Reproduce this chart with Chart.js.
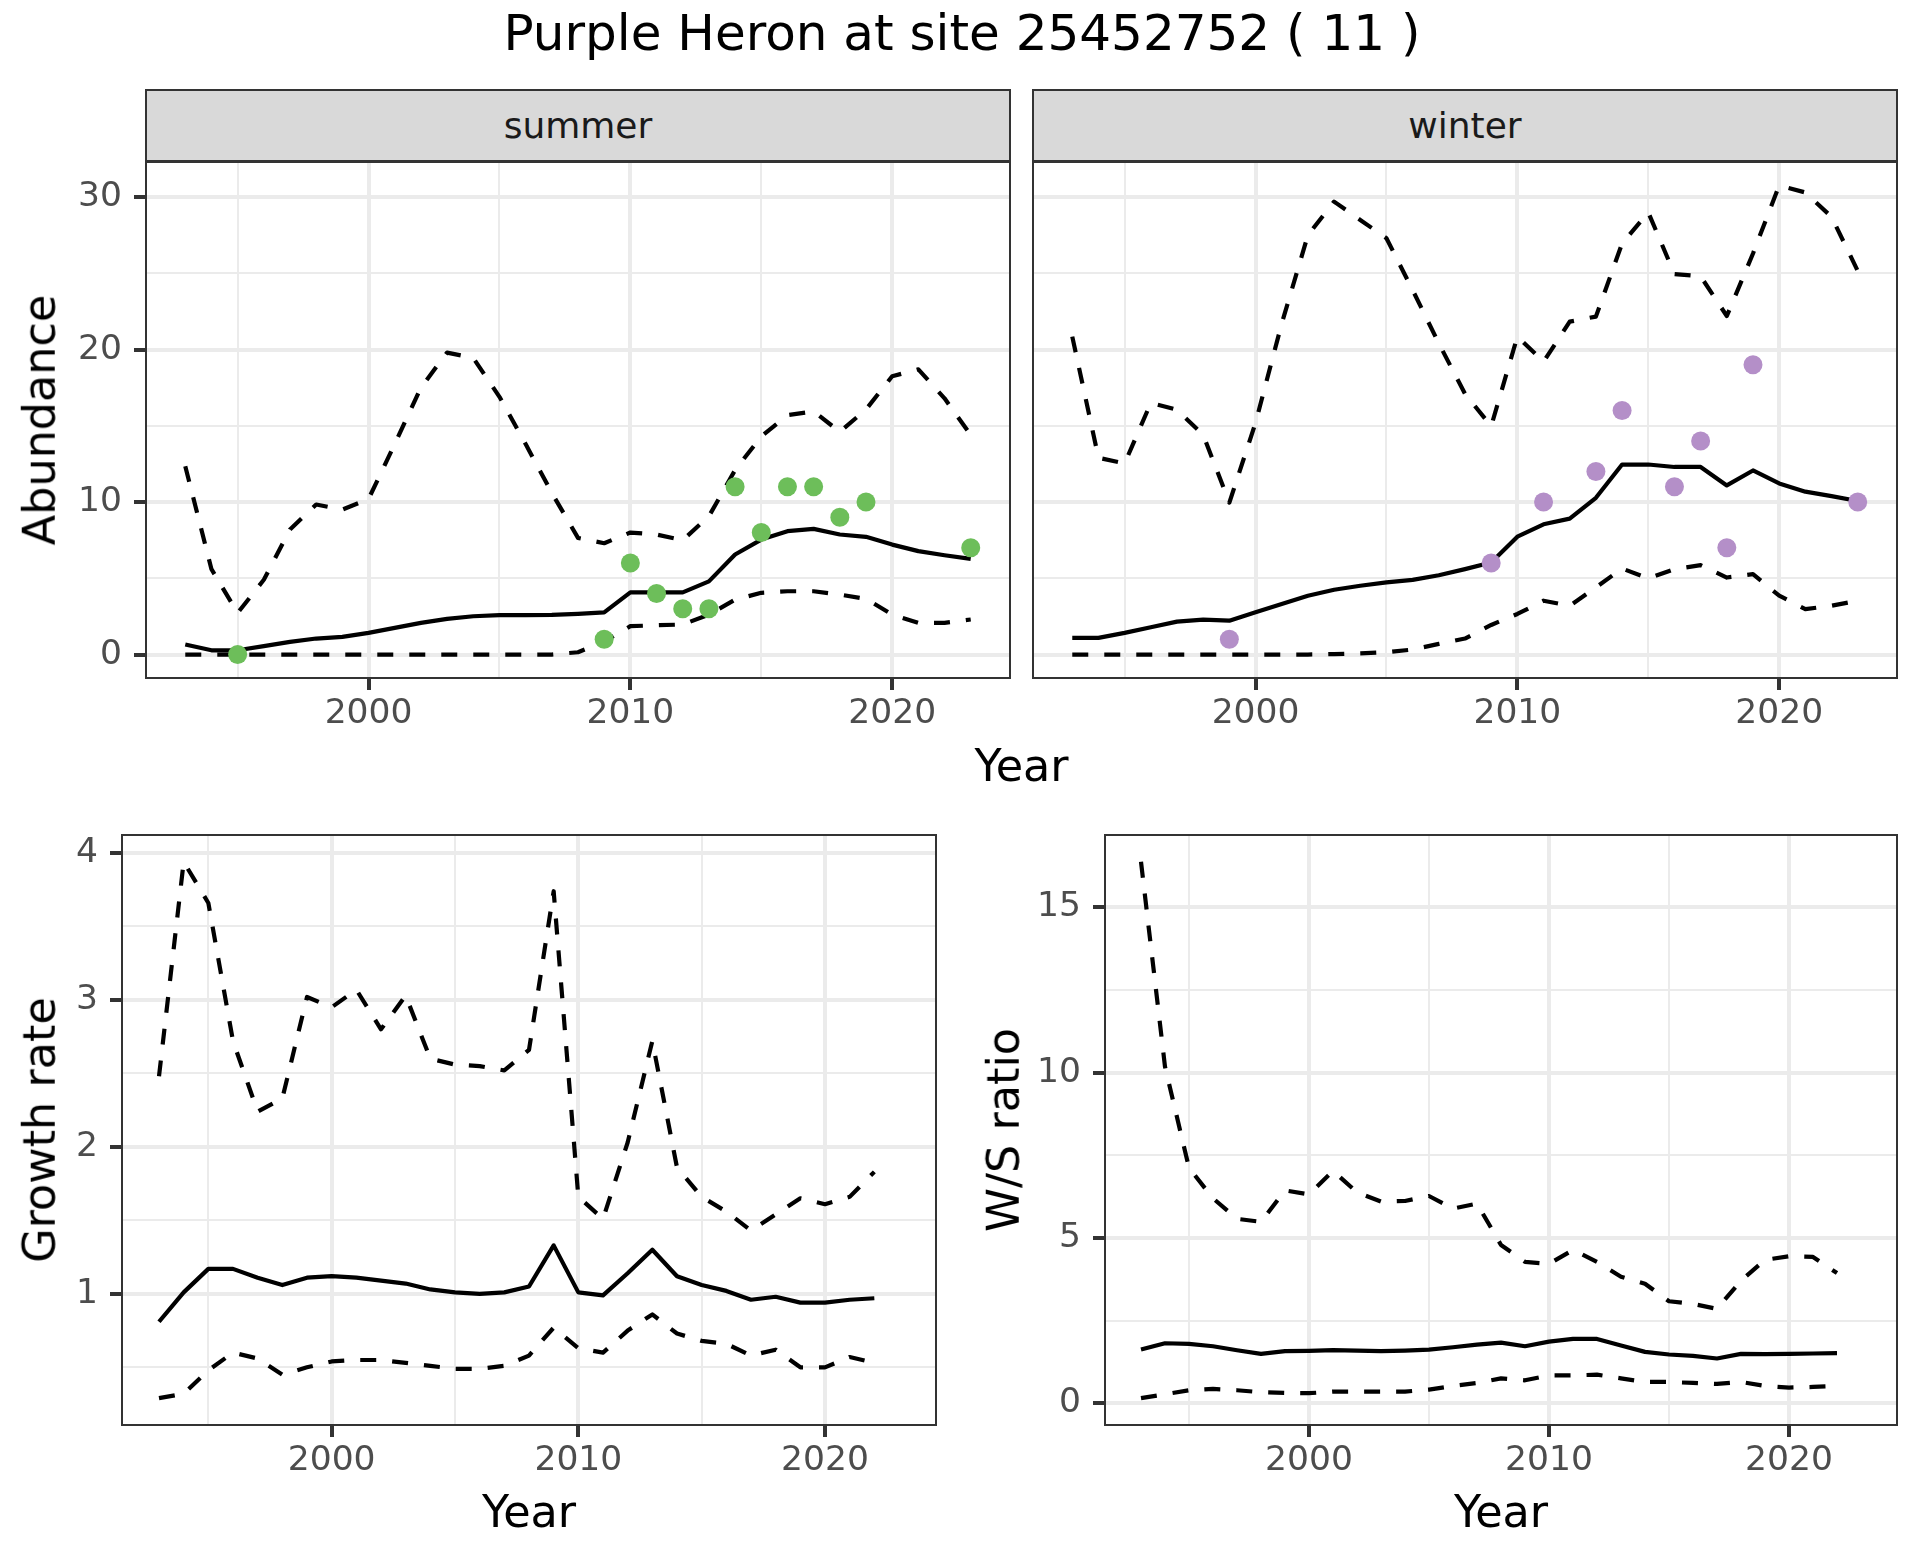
<!DOCTYPE html>
<html>
<head>
<meta charset="utf-8">
<title>Purple Heron at site 25452752</title>
<script src="https://cdn.jsdelivr.net/npm/chart.js@4.4.1/dist/chart.umd.min.js"></script>
<style>
  body { margin: 0; background: #fff; font-family: "DejaVu Sans", sans-serif; }
  #page { position: relative; width: 1920px; height: 1560px; overflow: hidden; background: #fff; }
  .txt { position: absolute; white-space: nowrap; line-height: 1; color: #000; }
  .strip { position: absolute; box-sizing: border-box; background: #D9D9D9; border: 2px solid #333333;
           color: #1A1A1A; font-size: 36px; display: flex; align-items: center; justify-content: center; }
  canvas { position: absolute; }
</style>
</head>
<body>
<div id="page"></div>
<script>
// abundance panels (summer / winter), 1993-2023
const years = [1993, 1994, 1995, 1996, 1997, 1998, 1999, 2000, 2001, 2002, 2003, 2004, 2005, 2006, 2007, 2008,
  2009, 2010, 2011, 2012, 2013, 2014, 2015, 2016, 2017, 2018, 2019, 2020, 2021, 2022, 2023];

const summerMean = [0.66, 0.28, 0.28, 0.55, 0.83, 1.05, 1.16, 1.42, 1.75, 2.08, 2.34, 2.51, 2.58, 2.58, 2.6, 2.67,
  2.77, 4.08, 4.08, 4.08, 4.8, 6.56, 7.54, 8.09, 8.24, 7.87, 7.72, 7.21, 6.78, 6.51, 6.27];
const summerUpper = [12.35, 5.6, 2.73, 4.9, 8.2, 9.84, 9.5, 10.2, 13.8, 17.5, 19.8, 19.45, 16.9, 13.8, 10.6, 7.65,
  7.3, 8.0, 7.87, 7.5, 9.07, 12.1, 14.3, 15.7, 15.95, 14.6, 16.07, 18.25, 18.7, 16.8, 14.4];
const summerLower = [0, 0, 0, 0, 0, 0, 0, 0, 0, 0, 0, 0, 0, 0, 0, 0.15,
  0.85, 1.86, 1.92, 1.97, 2.62, 3.6, 4.05, 4.15, 4.15, 3.93, 3.65, 2.62, 2.08, 2.08, 2.3];
const summerCountYears = [1995, 2009, 2010, 2011, 2012, 2013, 2014, 2015, 2016, 2017, 2018, 2019, 2023];
const summerCounts = [0, 1, 6, 4, 3, 3, 11, 8, 11, 11, 9, 10, 7];

const winterMean = [1.09, 1.09, 1.42, 1.79, 2.16, 2.29, 2.22, 2.77, 3.31, 3.86, 4.25, 4.51, 4.73, 4.9, 5.2, 5.6,
  6.03, 7.73, 8.54, 8.91, 10.28, 12.46, 12.46, 12.3, 12.3, 11.09, 12.07, 11.22, 10.68, 10.39, 10.07];
const winterUpper = [20.85, 12.9, 12.53, 16.5, 16.05, 14.4, 9.96, 15.2, 21.7, 27.5, 29.7, 28.5, 27.3, 23.9, 20.4, 17.1,
  14.97, 20.85, 19.2, 21.83, 22.16, 26.96, 29.0, 24.95, 24.8, 22.2, 26.3, 30.76, 30.3, 28.7, 25.16];
const winterLower = [0, 0, 0, 0, 0, 0, 0, 0, 0, 0, 0.03, 0.08, 0.15, 0.33, 0.7, 1.05,
  1.94, 2.66, 3.53, 3.2, 4.4, 5.64, 4.99, 5.6, 5.86, 5.05, 5.27, 3.86, 2.98, 3.2, 3.53];
const winterCountYears = [1999, 2009, 2011, 2013, 2014, 2016, 2017, 2018, 2019, 2023];
const winterCounts = [1, 6, 10, 12, 16, 11, 14, 7, 19, 10];

// growth rate and W/S ratio, 1993-2022
const rateYears = [1993, 1994, 1995, 1996, 1997, 1998, 1999, 2000, 2001, 2002, 2003, 2004, 2005, 2006, 2007, 2008,
  2009, 2010, 2011, 2012, 2013, 2014, 2015, 2016, 2017, 2018, 2019, 2020, 2021, 2022];

const growthMean = [0.81, 1.01, 1.17, 1.17, 1.11, 1.06, 1.11, 1.12, 1.11, 1.09, 1.07, 1.03, 1.01, 1.0, 1.01, 1.05,
  1.33, 1.01, 0.99, 1.14, 1.30, 1.12, 1.06, 1.02, 0.96, 0.98, 0.94, 0.94, 0.96, 0.97];
const growthUpper = [2.48, 3.94, 3.66, 2.72, 2.24, 2.33, 3.02, 2.95, 3.07, 2.8, 3.03, 2.6, 2.56, 2.55, 2.52, 2.66,
  3.74, 1.66, 1.51, 2.03, 2.72, 1.86, 1.66, 1.56, 1.43, 1.54, 1.65, 1.61, 1.66, 1.83];
const growthLower = [0.29, 0.32, 0.48, 0.6, 0.56, 0.45, 0.5, 0.54, 0.55, 0.55, 0.53, 0.51, 0.49, 0.49, 0.51, 0.58,
  0.77, 0.63, 0.60, 0.75, 0.86, 0.73, 0.68, 0.66, 0.58, 0.62, 0.5, 0.5, 0.57, 0.53];

const ratioMean = [1.63, 1.82, 1.8, 1.73, 1.61, 1.5, 1.58, 1.59, 1.61, 1.6, 1.58, 1.6, 1.63, 1.7, 1.78, 1.84,
  1.73, 1.87, 1.95, 1.95, 1.75, 1.56, 1.48, 1.44, 1.36, 1.5, 1.49, 1.5, 1.51, 1.52];
const ratioUpper = [16.37, 10.18, 7.12, 6.2, 5.58, 5.49, 6.44, 6.32, 7.03, 6.38, 6.1, 6.12, 6.27, 5.89, 6.04, 4.79,
  4.28, 4.22, 4.64, 4.28, 3.83, 3.62, 3.09, 3.01, 2.86, 3.71, 4.34, 4.45, 4.43, 3.94];
const ratioLower = [0.16, 0.28, 0.4, 0.44, 0.4, 0.34, 0.32, 0.31, 0.36, 0.36, 0.36, 0.36, 0.42, 0.53, 0.62, 0.76,
  0.7, 0.85, 0.85, 0.87, 0.76, 0.65, 0.65, 0.62, 0.59, 0.65, 0.53, 0.48, 0.5, 0.53];

// tick labels (major) and minor grid positions
const yearTicks = [2000, 2010, 2020];
const yearMinor = [1995, 2005, 2015];
const abundTicks = [0, 10, 20, 30];
const abundMinor = [5, 15, 25];
const growthTicks = [1, 2, 3, 4];
const growthMinor = [0.5, 1.5, 2.5, 3.5];
const ratioTicks = [0, 5, 10, 15];
const ratioMinor = [2.5, 7.5, 12.5];

const greenDot = "#6DBE5A";
const purpleDot = "#B48FC8";

Chart.defaults.font.family = "DejaVu Sans";

const page = document.getElementById("page");

function addText(text, cx, cy, size, rotate) {
  const d = document.createElement("div");
  d.className = "txt";
  d.textContent = text;
  d.style.fontSize = size + "px";
  d.style.left = cx + "px";
  d.style.top = cy + "px";
  d.style.transform = "translate(-50%, -50%)" + (rotate ? " rotate(-90deg)" : "");
  page.appendChild(d);
}

function addStrip(text, box) {
  const d = document.createElement("div");
  d.className = "strip";
  d.textContent = text;
  d.style.left = (box.x0 - 1) + "px";
  d.style.width = (box.x1 - box.x0 + 2) + "px";
  d.style.top = "89px";
  d.style.height = "73px";
  page.appendChild(d);
}

// ggplot-style 5% expansion of the axis range
function expand(arrays) {
  const all = [].concat(...arrays);
  const lo = Math.min(...all), hi = Math.max(...all);
  const pad = (hi - lo) * 0.05;
  return [lo - pad, hi + pad];
}

const toXY = (xs, ys) => xs.map((x, i) => ({ x: x, y: ys[i] }));

const panelBorder = {
  id: "panelBorder",
  afterDraw(chart) {
    const { ctx, chartArea: a } = chart;
    ctx.save();
    ctx.strokeStyle = "#333333";
    ctx.lineWidth = 2;
    ctx.strokeRect(a.left, a.top, a.right - a.left, a.bottom - a.top);
    ctx.restore();
  }
};

function lineSet(xs, ys, dashed) {
  return {
    data: toXY(xs, ys),
    borderColor: "#000000",
    borderWidth: 4.2,
    borderDash: dashed ? [16, 16] : [],
    borderJoinStyle: "round",
    borderCapStyle: "butt",
    pointRadius: 0,
    fill: false,
    tension: 0
  };
}

function makePanel(box, p) {
  const yw = p.showY ? 120 : 10;
  const pt = 20, pr = 20, xh = 70;
  const W = box.x1 - box.x0 + yw + pr;
  const H = box.y1 - box.y0 + pt + xh;
  const canvas = document.createElement("canvas");
  canvas.width = W;
  canvas.height = H;
  canvas.style.left = (box.x0 - yw) + "px";
  canvas.style.top = (box.y0 - pt) + "px";
  canvas.style.width = W + "px";
  canvas.style.height = H + "px";
  page.appendChild(canvas);

  const xAll = yearMinor.concat(yearTicks).sort((a, b) => a - b);
  const yAll = p.yMinor.concat(p.yTicks).sort((a, b) => a - b);
  const [ymin, ymax] = expand(p.range);

  const datasets = [];
  if (p.points) {
    datasets.push({
      data: toXY(p.points[0], p.points[1]),
      showLine: false,
      pointRadius: 9.5,
      pointBackgroundColor: p.points[2],
      pointBorderWidth: 0,
      borderColor: p.points[2]
    });
  }
  p.lines.forEach(l => datasets.push(lineSet(p.xs, l[0], l[1])));

  const tickFont = { family: "DejaVu Sans", size: 34.5 };

  new Chart(canvas, {
    type: "line",
    data: { datasets: datasets },
    options: {
      responsive: false,
      animation: false,
      devicePixelRatio: 1,
      layout: { padding: { left: 0, top: pt, right: pr, bottom: 0 } },
      plugins: { legend: { display: false }, tooltip: { enabled: false } },
      scales: {
        x: {
          type: "linear",
          min: 1991.5,
          max: 2024.5,
          afterBuildTicks: s => { s.ticks = xAll.map(v => ({ value: v })); },
          afterFit: s => { s.height = xh; s.paddingLeft = 0; s.paddingRight = 0; },
          ticks: {
            autoSkip: false,
            maxRotation: 0,
            padding: 3,
            color: "#4D4D4D",
            font: tickFont,
            callback: v => yearTicks.includes(v) ? String(v) : ""
          },
          grid: {
            color: "#EBEBEB",
            lineWidth: c => (c.tick && yearTicks.includes(c.tick.value)) ? 4 : 2,
            tickLength: 12,
            tickWidth: 4,
            tickColor: c => (c.tick && yearTicks.includes(c.tick.value)) ? "#333333" : "rgba(0,0,0,0)"
          },
          border: { display: false }
        },
        y: {
          type: "linear",
          min: ymin,
          max: ymax,
          afterBuildTicks: s => { s.ticks = yAll.map(v => ({ value: v })); },
          afterFit: s => { s.width = yw; s.paddingTop = 0; s.paddingBottom = 0; },
          ticks: {
            display: p.showY,
            padding: 12,
            color: "#4D4D4D",
            font: tickFont,
            callback: v => p.yTicks.includes(v) ? String(v) : ""
          },
          grid: {
            color: "#EBEBEB",
            lineWidth: c => (c.tick && p.yTicks.includes(c.tick.value)) ? 4 : 2,
            drawTicks: p.showY,
            tickLength: 12,
            tickWidth: 4,
            tickColor: c => (c.tick && p.yTicks.includes(c.tick.value)) ? "#333333" : "rgba(0,0,0,0)"
          },
          border: { display: false }
        }
      }
    },
    plugins: [panelBorder]
  });
}

const summerBox = { x0: 146, x1: 1010, y0: 162, y1: 678 };
const winterBox = { x0: 1033, x1: 1897, y0: 162, y1: 678 };
const growthBox = { x0: 122, x1: 936, y0: 835, y1: 1425 };
const ratioBox = { x0: 1105, x1: 1897, y0: 835, y1: 1425 };

// both abundance facets share one y range
const abundRange = [summerUpper, summerLower, winterUpper, winterLower];

makePanel(summerBox, {
  showY: true, xs: years, yTicks: abundTicks, yMinor: abundMinor, range: abundRange,
  lines: [[summerMean, false], [summerUpper, true], [summerLower, true]],
  points: [summerCountYears, summerCounts, greenDot]
});
makePanel(winterBox, {
  showY: false, xs: years, yTicks: abundTicks, yMinor: abundMinor, range: abundRange,
  lines: [[winterMean, false], [winterUpper, true], [winterLower, true]],
  points: [winterCountYears, winterCounts, purpleDot]
});
makePanel(growthBox, {
  showY: true, xs: rateYears, yTicks: growthTicks, yMinor: growthMinor, range: [growthUpper, growthLower],
  lines: [[growthMean, false], [growthUpper, true], [growthLower, true]]
});
makePanel(ratioBox, {
  showY: true, xs: rateYears, yTicks: ratioTicks, yMinor: ratioMinor, range: [ratioUpper, ratioLower],
  lines: [[ratioMean, false], [ratioUpper, true], [ratioLower, true]]
});

addStrip("summer", summerBox);
addStrip("winter", winterBox);

addText("Purple Heron at site 25452752 ( 11 )", 962, 33, 50);
addText("Abundance", 40, 420, 44.5, true);
addText("Year", 1021.5, 766, 44.5);
addText("Growth rate", 40, 1130, 44.5, true);
addText("Year", 529, 1512, 44.5);
addText("W/S ratio", 1004, 1130, 44.5, true);
addText("Year", 1501, 1512, 44.5);
</script>
</body>
</html>
